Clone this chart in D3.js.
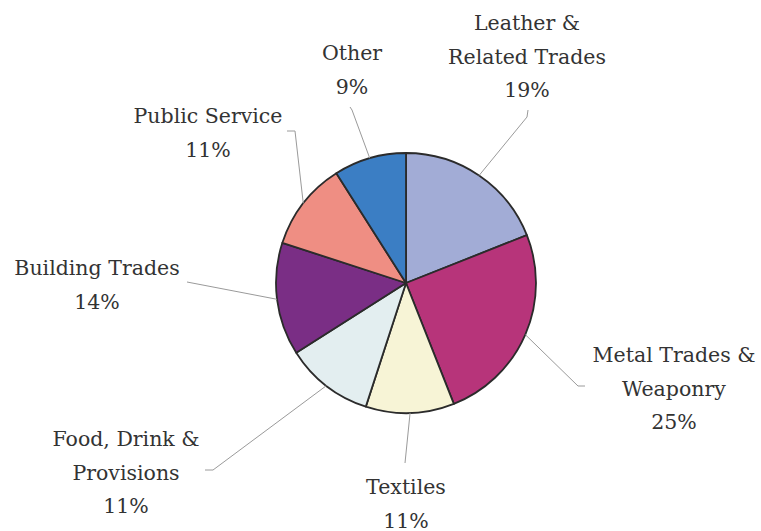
<!DOCTYPE html>
<html>
<head>
<meta charset="utf-8">
<script src="https://cdn.jsdelivr.net/npm/d3@7"></script>
<style>
  html, body { margin: 0; padding: 0; background: #fff; }
  svg { display: block; }
</style>
</head>
<body>
<script>
// Occupational groups, clockwise from twelve o'clock
const categories = [
  "Leather & Related Trades",
  "Metal Trades & Weaponry",
  "Textiles",
  "Food, Drink & Provisions",
  "Building Trades",
  "Public Service",
  "Other"
];
const shares = [19, 25, 11, 11, 14, 11, 9];
const labelLines = [
  ["Leather &", "Related Trades"],
  ["Metal Trades &", "Weaponry"],
  ["Textiles"],
  ["Food, Drink &", "Provisions"],
  ["Building Trades"],
  ["Public Service"],
  ["Other"]
];
const sliceColors = ["#a2acd6", "#b7347a", "#f7f4d6", "#e3eef0", "#7a2e85", "#ef8e83", "#3b7ec4"];

// Label placement: text centre x, first baseline y, and leader-line bend points
const labelLayout = [
  { x: 527, y: 30,  bend: [[527, 117], [528, 110]] },
  { x: 674, y: 362, bend: [[578, 386], [585, 386]] },
  { x: 406, y: 494, bend: [[405, 463]] },
  { x: 126, y: 446, bend: [[213, 470], [205, 470]] },
  { x: 97,  y: 275, bend: [[187, 282]] },
  { x: 208, y: 123, bend: [[295, 131], [287, 131]] },
  { x: 352, y: 60,  bend: [[352, 110], [350, 107]] }
];

const W = 761, H = 531;
const cx = 406, cy = 283, R = 130;
const lineH = 33.5;
const serif = "'DejaVu Serif', serif";

const svg = d3.select("body").append("svg")
  .attr("width", W).attr("height", H);

const data = categories.map((c, i) => ({ name: c, value: shares[i], lines: labelLines[i], color: sliceColors[i], layout: labelLayout[i] }));

const pie = d3.pie().value(d => d.value).sort(null);
const arcs = pie(data);
const arc = d3.arc().innerRadius(0).outerRadius(R);

const g = svg.append("g").attr("transform", `translate(${cx},${cy})`);

// Leader lines from the rim at each slice's mid-angle
const line = d3.line();
svg.append("g").selectAll("path")
  .data(arcs)
  .join("path")
  .attr("d", a => {
    const mid = (a.startAngle + a.endAngle) / 2;
    const start = [cx + R * Math.sin(mid), cy - R * Math.cos(mid)];
    return line([start, ...a.data.layout.bend]);
  })
  .attr("fill", "none")
  .attr("stroke", "#9a9a9a")
  .attr("stroke-width", 1);

// Slices
g.selectAll("path")
  .data(arcs)
  .join("path")
  .attr("d", arc)
  .attr("fill", a => a.data.color)
  .attr("stroke", "#2b2b2b")
  .attr("stroke-width", 1.8)
  .attr("stroke-linejoin", "round");

// Labels: name lines followed by the percentage
const labels = svg.append("g")
  .selectAll("text")
  .data(arcs)
  .join("text")
  .attr("text-anchor", "middle")
  .style("font-family", serif)
  .style("fill", "#333")
  .attr("font-size", 20.5)
  .attr("x", a => a.data.layout.x)
  .attr("y", a => a.data.layout.y);

labels.each(function(a) {
  const t = d3.select(this);
  const rows = [...a.data.lines, `${a.data.value}%`];
  rows.forEach((r, i) => {
    t.append("tspan")
      .attr("x", a.data.layout.x)
      .attr("y", a.data.layout.y + i * lineH)
      .text(r);
  });
});
</script>
</body>
</html>
